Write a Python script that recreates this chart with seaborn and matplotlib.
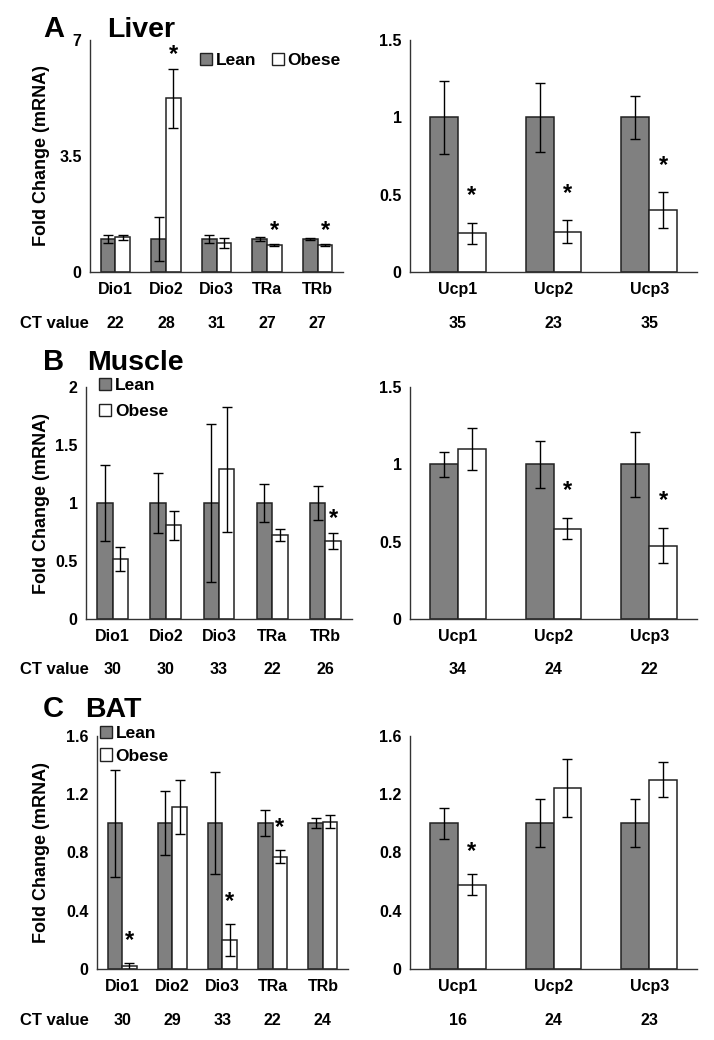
import numpy as np
import matplotlib
matplotlib.use("Agg")
import matplotlib.pyplot as plt
import matplotlib.transforms as mtransforms
from matplotlib.patches import Patch
import seaborn as sns
import pandas as pd

sns.set_style("white")
plt.rcParams['font.family'] = ['Liberation Sans', 'DejaVu Sans']
plt.rcParams['font.weight'] = 'bold'
for key in ['text.color', 'axes.labelcolor', 'xtick.color', 'ytick.color']:
    plt.rcParams[key] = 'black'

# ---- data ----
dio_genes = ['Dio1', 'Dio2', 'Dio3', 'TRa', 'TRb']
ucp_genes = ['Ucp1', 'Ucp2', 'Ucp3']

# A - Liver
liver_dio_lean = [1.0, 1.0, 1.0, 1.0, 1.0]
liver_dio_lean_err = [0.12, 0.66, 0.12, 0.05, 0.04]
liver_dio_obese = [1.05, 5.24, 0.87, 0.80, 0.80]
liver_dio_obese_err = [0.08, 0.90, 0.15, 0.03, 0.03]
liver_dio_stars = [False, True, False, True, True]
liver_dio_ct = [22, 28, 31, 27, 27]

liver_ucp_lean = [1.0, 1.0, 1.0]
liver_ucp_lean_err = [0.235, 0.225, 0.14]
liver_ucp_obese = [0.25, 0.26, 0.40]
liver_ucp_obese_err = [0.07, 0.075, 0.115]
liver_ucp_stars = [True, True, True]
liver_ucp_ct = [35, 23, 35]

# B - Muscle
muscle_dio_lean = [1.0, 1.0, 1.0, 1.0, 1.0]
muscle_dio_lean_err = [0.33, 0.255, 0.68, 0.165, 0.145]
muscle_dio_obese = [0.52, 0.81, 1.29, 0.725, 0.67]
muscle_dio_obese_err = [0.105, 0.125, 0.54, 0.05, 0.07]
muscle_dio_stars = [False, False, False, False, True]
muscle_dio_ct = [30, 30, 33, 22, 26]

muscle_ucp_lean = [1.0, 1.0, 1.0]
muscle_ucp_lean_err = [0.08, 0.15, 0.21]
muscle_ucp_obese = [1.10, 0.585, 0.475]
muscle_ucp_obese_err = [0.135, 0.07, 0.115]
muscle_ucp_stars = [False, True, True]
muscle_ucp_ct = [34, 24, 22]

# C - BAT
bat_dio_lean = [1.0, 1.0, 1.0, 1.0, 1.0]
bat_dio_lean_err = [0.365, 0.22, 0.35, 0.09, 0.035]
bat_dio_obese = [0.02, 1.11, 0.20, 0.77, 1.01]
bat_dio_obese_err = [0.02, 0.185, 0.11, 0.045, 0.045]
bat_dio_stars = [True, False, True, True, False]
bat_dio_ct = [30, 29, 33, 22, 24]

bat_ucp_lean = [1.0, 1.0, 1.0]
bat_ucp_lean_err = [0.105, 0.165, 0.165]
bat_ucp_obese = [0.58, 1.245, 1.30]
bat_ucp_obese_err = [0.07, 0.20, 0.12]
bat_ucp_stars = [True, False, False]
bat_ucp_ct = [16, 24, 23]

palette = {'Lean': '#808080', 'Obese': 'white'}
EDGE = '#222222'
W, H = 714, 1040


def px_axes(x0, x1, ytop, ybot):
    return [x0 / W, 1 - ybot / H, (x1 - x0) / W, (ybot - ytop) / H]


def panel(ax, genes, lean, lean_err, obese, obese_err, stars, ct,
          yticks, ylim, ylabel=False, legend=None, star_pad=2):
    df = pd.DataFrame({
        'gene': genes * 2,
        'group': ['Lean'] * len(genes) + ['Obese'] * len(genes),
        'value': lean + obese,
    })
    sns.barplot(data=df, x='gene', y='value', hue='group', palette=palette,
                edgecolor=EDGE, linewidth=1.1, width=0.58, legend=False,
                errorbar=None, ax=ax)
    for k, (cont, err) in enumerate(zip(ax.containers, [lean_err, obese_err])):
        xs = [p.get_x() + p.get_width() / 2 for p in cont.patches]
        ys = [p.get_height() for p in cont.patches]
        ax.errorbar(xs, ys, yerr=err, fmt='none', ecolor='black',
                    elinewidth=1.0, capsize=3.5, capthick=1.0)
        if k == 1:
            for x, y, e, s in zip(xs, ys, err, stars):
                if s:
                    ax.annotate('*', xy=(x, y + e), xytext=(0, star_pad),
                                textcoords='offset points', ha='center',
                                va='bottom', fontsize=17, fontweight='bold')
    ax.set_ylim(*ylim)
    ax.set_xlim(-0.5, len(genes) - 0.5)
    ax.set_yticks(yticks)
    ax.set_yticklabels([('%g' % t) for t in yticks])
    ax.set_xlabel('')
    ax.set_ylabel('')
    for side in ['top', 'right']:
        ax.spines[side].set_visible(False)
    for side in ['left', 'bottom']:
        ax.spines[side].set_color('#333333')
        ax.spines[side].set_linewidth(1.0)
    ax.tick_params(axis='y', length=4, width=1, color='#333333', pad=2,
                   labelsize=11.5)
    ax.tick_params(axis='x', length=0, pad=7, labelsize=11.5)
    for lab in ax.get_xticklabels() + ax.get_yticklabels():
        lab.set_fontweight('bold')

    trans = mtransforms.blended_transform_factory(ax.transData, ax.transAxes)
    for i, v in enumerate(ct):
        ax.text(i, -51 / 232, str(v), transform=trans, ha='center',
                va='center', fontsize=11.5, fontweight='bold')

    if ylabel:
        ax.set_ylabel('Fold Change (mRNA)', fontsize=13, fontweight='bold')
        bb = ax.get_position()
        ax.yaxis.set_label_coords((50 / W - bb.x0) / bb.width, 0.5)
        ftrans = mtransforms.blended_transform_factory(ax.figure.transFigure,
                                                       ax.transAxes)
        ax.text(20 / W, -51 / 232, 'CT value', transform=ftrans, ha='left',
                va='center', fontsize=12, fontweight='bold')

    if legend is not None:
        handles = [Patch(facecolor=palette[g], edgecolor=EDGE, linewidth=1.0)
                   for g in ['Lean', 'Obese']]
        kw = dict(handles=handles, labels=['Lean', 'Obese'], frameon=False,
                  handlelength=0.7, handleheight=0.7, handletextpad=0.2,
                  borderpad=0, borderaxespad=0,
                  prop={'weight': 'bold', 'size': 12.5})
        kw.update(legend)
        ax.legend(**kw)


fig = plt.figure(figsize=(W / 100, H / 100), dpi=100)

axA1 = fig.add_axes(px_axes(90, 343, 40, 272))
axA2 = fig.add_axes(px_axes(410, 697, 40, 272))
axB1 = fig.add_axes(px_axes(86, 352, 387, 619))
axB2 = fig.add_axes(px_axes(410, 697, 387, 619))
axC1 = fig.add_axes(px_axes(97, 348, 736, 969))
axC2 = fig.add_axes(px_axes(410, 697, 736, 969))

panel(axA1, dio_genes, liver_dio_lean, liver_dio_lean_err, liver_dio_obese,
      liver_dio_obese_err, liver_dio_stars, liver_dio_ct,
      [0, 3.5, 7], (0, 7), ylabel=True,
      legend=dict(ncol=2, loc='upper right', bbox_to_anchor=(0.99, 0.945),
                  columnspacing=0.9))
panel(axA2, ucp_genes, liver_ucp_lean, liver_ucp_lean_err, liver_ucp_obese,
      liver_ucp_obese_err, liver_ucp_stars, liver_ucp_ct,
      [0, 0.5, 1, 1.5], (0, 1.5), star_pad=11)
panel(axB1, dio_genes, muscle_dio_lean, muscle_dio_lean_err, muscle_dio_obese,
      muscle_dio_obese_err, muscle_dio_stars, muscle_dio_ct,
      [0, 0.5, 1, 1.5, 2], (0, 2), ylabel=True,
      legend=dict(ncol=1, loc='upper left', bbox_to_anchor=(0.05, 1.04),
                  labelspacing=0.65))
panel(axB2, ucp_genes, muscle_ucp_lean, muscle_ucp_lean_err, muscle_ucp_obese,
      muscle_ucp_obese_err, muscle_ucp_stars, muscle_ucp_ct,
      [0, 0.5, 1, 1.5], (0, 1.5), star_pad=11)
panel(axC1, dio_genes, bat_dio_lean, bat_dio_lean_err, bat_dio_obese,
      bat_dio_obese_err, bat_dio_stars, bat_dio_ct,
      [0, 0.4, 0.8, 1.2, 1.6], (0, 1.6), ylabel=True,
      legend=dict(ncol=1, loc='upper left', bbox_to_anchor=(0.012, 1.045),
                  labelspacing=0.45), star_pad=8)
panel(axC2, ucp_genes, bat_ucp_lean, bat_ucp_lean_err, bat_ucp_obese,
      bat_ucp_obese_err, bat_ucp_stars, bat_ucp_ct,
      [0, 0.4, 0.8, 1.2, 1.6], (0, 1.6), star_pad=8)

# panel titles
for letter, name, base, xname in [('A', 'Liver', 37, 107),
                                  ('B', 'Muscle', 370, 87),
                                  ('C', 'BAT', 717, 85)]:
    fig.text(43 / W, 1 - base / H, letter, fontsize=21, fontweight='bold',
             va='baseline', ha='left')
    fig.text(xname / W, 1 - base / H, name, fontsize=20.5, fontweight='bold',
             va='baseline', ha='left')

fig.savefig('out.png', dpi=100)
